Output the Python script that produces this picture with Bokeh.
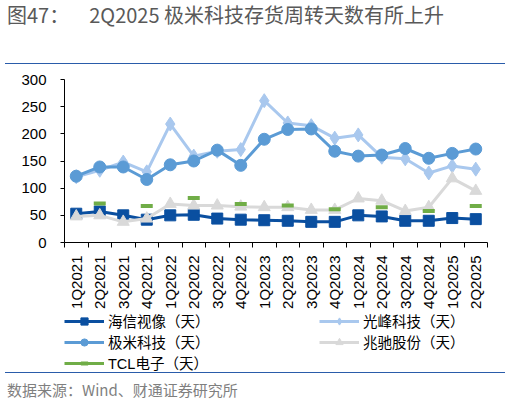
import math
from bokeh.plotting import figure
from bokeh.models import (ColumnDataSource, FactorRange, Range1d, LinearAxis,
                          CategoricalAxis, FixedTicker, Legend, LegendItem, Div)
from bokeh.layouts import column
from bokeh.embed import file_html
from bokeh.resources import INLINE

nan = float("nan")

quarters = ["1Q2021", "2Q2021", "3Q2021", "4Q2021", "1Q2022", "2Q2022",
            "3Q2022", "4Q2022", "1Q2023", "2Q2023", "3Q2023", "4Q2023",
            "1Q2024", "2Q2024", "3Q2024", "4Q2024", "1Q2025", "2Q2025"]
hisense = [53, 57, 50, 42, 50, 51, 44, 42, 41, 40, 38, 38, 50, 48, 40, 40, 45, 43]
appotronics = [121, 133, 148, 130, 218, 159, 168, 171, 261, 220, 215, 192, 198, 157, 154, 128, 141, 135]
xgimi = [122, 139, 139, 116, 143, 150, 170, 142, 190, 208, 209, 168, 159, 161, 173, 155, 164, 172]
mtc = [48, 50, 38, 44, 71, 68, 68, 66, 65, 65, 60, 60, 81, 77, 58, 65, 118, 95]
tcl = [nan, 72, nan, 67, nan, 82, nan, 71, nan, 68, nan, 61, nan, 65, nan, 58, nan, 67]

labels = ["海信视像（天）", "光峰科技（天）", "极米科技（天）", "兆驰股份（天）", "TCL电子（天）"]
y_ticks = [0, 50, 100, 150, 200, 250, 300]

src = ColumnDataSource(data=dict(q=quarters, hisense=hisense, appotronics=appotronics,
                                 xgimi=xgimi, mtc=mtc, tcl=tcl))

FONT = "Liberation Sans, Noto Sans CJK SC"

p = figure(x_range=FactorRange(factors=quarters), y_range=Range1d(0, 300),
           width=510, height=247,
           min_border_left=64, min_border_right=23, min_border_top=15, min_border_bottom=67,
           x_axis_location=None, output_backend="svg", toolbar_location=None)
p.outline_line_color = None
p.grid.visible = False

# tick marks between categories, like the original (minor ticks, no labels)
edge_axis = LinearAxis(ticker=FixedTicker(ticks=[], minor_ticks=list(range(len(quarters) + 1))),
                       minor_tick_out=5, minor_tick_in=0, minor_tick_line_color="black",
                       major_tick_line_color=None, axis_line_color="black")
p.add_layout(edge_axis, "below")
cat_axis = CategoricalAxis(major_label_orientation=math.pi / 2, major_tick_line_color=None,
                           axis_line_color=None, major_label_text_font_size="15px",
                           major_label_text_font=FONT, major_label_text_color="black",
                           major_label_standoff=2)
p.add_layout(cat_axis, "below")

p.yaxis.ticker = y_ticks
p.yaxis.minor_tick_line_color = None
p.yaxis.major_tick_out = 4
p.yaxis.major_tick_in = 0
p.yaxis.axis_line_color = "black"
p.yaxis.major_label_text_font_size = "15px"
p.yaxis.major_label_text_font = FONT
p.yaxis.major_label_text_color = "black"
p.yaxis.major_label_standoff = 14

# second strip only carries the legend; its y range keeps the copies out of view
leg = figure(x_range=p.x_range, y_range=Range1d(1000, 1100), width=510, height=61,
             min_border=0, x_axis_location=None, y_axis_location=None,
             output_backend="svg", toolbar_location=None)
leg.outline_line_color = None
leg.grid.visible = False

series = [
    ("hisense", "#0A4FA0", "square", 11),
    ("appotronics", "#A9C8EE", "diamond", 14),
    ("xgimi", "#5B9BD5", "circle", 12),
    ("mtc", "#D9D9D9", "triangle", 12),
]
items = []
for (col, color, marker, size), label in zip(series, labels):
    p.line(x="q", y=col, source=src, line_color=color, line_width=3)
    p.scatter(x="q", y=col, source=src, marker=marker, size=size,
              fill_color=color, line_color=color)
    ln = leg.line(x="q", y=col, source=src, line_color=color, line_width=3)
    sc = leg.scatter(x="q", y=col, source=src, marker=marker, size=size,
                     fill_color=color, line_color=color)
    items.append(LegendItem(label=label, renderers=[ln, sc]))

p.line(x="q", y="tcl", source=src, line_color="#70AD47", line_width=3)
p.scatter(x="q", y="tcl", source=src, marker="dash", size=12, line_color="#70AD47", line_width=4)
ln = leg.line(x="q", y="tcl", source=src, line_color="#70AD47", line_width=3)
sc = leg.scatter(x="q", y="tcl", source=src, marker="dash", size=12,
                 line_color="#70AD47", line_width=4)
items.append(LegendItem(label=labels[4], renderers=[ln, sc]))

legend = Legend(items=items, location=(0, -1), orientation="horizontal", ncols=2,
                glyph_width=40, glyph_height=18, label_height=18, label_standoff=4,
                label_width=211, spacing=-3, padding=0, margin=0, border_line_color=None,
                background_fill_alpha=0, label_text_font=FONT,
                label_text_font_size="14.5px", label_text_color="black")
leg.add_layout(legend, "center")

title = Div(text="图47：&emsp;2Q2025 极米科技存货周转天数有所上升", width=500, height=64,
            margin=(0, 0, 0, 5),
            styles={"font-family": "Noto Sans CJK SC", "font-size": "20px", "color": "#595959",
                    "line-height": "20px", "border-bottom": "1px solid #2A5CAA",
                    "padding-top": "5px", "padding-left": "2px",
                    "box-sizing": "border-box", "width": "500px", "height": "64px"})
source = Div(text="数据来源：Wind、财通证券研究所", width=500, height=31, margin=(0, 0, 0, 5),
             styles={"font-family": "Noto Sans CJK SC", "font-size": "15px", "color": "#7F7F7F",
                     "line-height": "18px", "padding-top": "8px", "padding-left": "2px",
                     "border-top": "1px solid #2A5CAA",
                     "box-sizing": "border-box", "width": "500px", "height": "31px"})

layout = column(title, p, leg, source, spacing=0)
open("out.html", "w").write(file_html(layout, INLINE))
